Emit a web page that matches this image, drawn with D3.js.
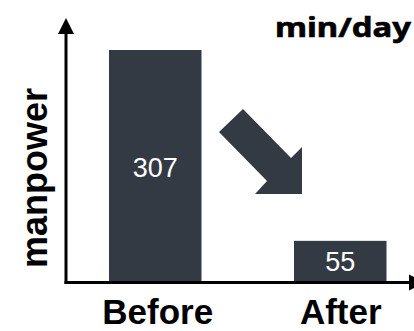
<!DOCTYPE html>
<html>
<head>
<meta charset="utf-8">
<script src="https://cdn.jsdelivr.net/npm/d3@7"></script>
<style>
  html, body { margin: 0; padding: 0; background: #fff; }
  svg { display: block; }
</style>
</head>
<body>
<svg id="chart" width="414" height="331"></svg>
<script>
// Daily manpower (min/day) before and after the improvement
const categories = ["Before", "After"];
const values = [307, 55];
const unitLabel = "min/day";
const axisTitle = "manpower";

const W = 414, H = 331;
const barColor = "#343a44";
const svg = d3.select("#chart");

const axisX = 66, axisY = 282.5;

const x = d3.scaleBand()
  .domain(categories)
  .range([62.75, 432.75])
  .paddingInner(0.5)
  .paddingOuter(0.25);

const y = d3.scaleLinear()
  .domain([0, d3.max(values)])
  .range([axisY, 50]);

// bars
svg.selectAll("rect.bar")
  .data(categories)
  .join("rect")
  .attr("class", "bar")
  .attr("x", d => x(d))
  .attr("width", x.bandwidth())
  .attr("y", (d, i) => y(values[i]))
  .attr("height", (d, i) => y(0) - y(values[i]))
  .attr("fill", barColor);

// value labels inside bars
svg.selectAll("text.val")
  .data(categories)
  .join("text")
  .attr("class", "val")
  .attr("x", d => x(d) + x.bandwidth() / 2)
  .attr("y", (d, i) => i === 0 ? (y(values[i]) + y(0)) / 2 + 11 : (y(values[i]) + y(0)) / 2 + 9)
  .attr("text-anchor", "middle")
  .attr("fill", "#ffffff")
  .style("font-family", "'Liberation Sans', Arial, sans-serif")
  .style("font-size", "27px")
  .text((d, i) => values[i]);

// axes with arrowheads
const axes = svg.append("g").attr("fill", "#000").attr("stroke", "#000");
axes.append("line")
  .attr("x1", axisX).attr("y1", axisY + 1.5)
  .attr("x2", axisX).attr("y2", 30)
  .attr("stroke-width", 3);
axes.append("path")
  .attr("stroke", "none")
  .attr("d", `M${axisX},18 L${axisX + 8},34 L${axisX - 8},34 Z`);
axes.append("line")
  .attr("x1", axisX - 1.5).attr("y1", axisY)
  .attr("x2", 412).attr("y2", axisY)
  .attr("stroke-width", 3);
axes.append("path")
  .attr("stroke", "none")
  .attr("d", `M${425},${axisY} L${409},${axisY - 8} L${409},${axisY + 8} Z`);

// category labels
svg.selectAll("text.cat")
  .data(categories)
  .join("text")
  .attr("class", "cat")
  .attr("x", (d, i) => x(d) + x.bandwidth() / 2 + (i === 0 ? 2.5 : 0.5))
  .attr("y", 323.5)
  .attr("text-anchor", "middle")
  .attr("fill", "#000")
  .style("font-family", "'Liberation Sans', Arial, sans-serif")
  .style("font-weight", "bold")
  .style("font-size", "35px")
  .text(d => d);

// y axis title
svg.append("text")
  .attr("transform", "translate(47,178) rotate(-90)")
  .attr("text-anchor", "middle")
  .attr("fill", "#000")
  .style("font-family", "'Liberation Sans', Arial, sans-serif")
  .style("font-weight", "bold")
  .style("font-size", "36px")
  .text(axisTitle);

// unit label
svg.append("text")
  .attr("x", 275)
  .attr("y", 36.5)
  .attr("fill", "#000")
  .attr("stroke", "#000")
  .attr("stroke-width", 0.6)
  .attr("textLength", 136)
  .attr("lengthAdjust", "spacingAndGlyphs")
  .style("font-family", "'Noto Sans', sans-serif")
  .style("font-weight", "bold")
  .style("font-size", "27px")
  .text(unitLabel);

// downward trend arrow
const arrowPts = [[219,132],[243,109],[291,158],[302,147],[302,194],[255,194],[267,181]];
svg.append("path")
  .attr("d", d3.line()(arrowPts) + "Z")
  .attr("fill", barColor);
</script>
</body>
</html>
